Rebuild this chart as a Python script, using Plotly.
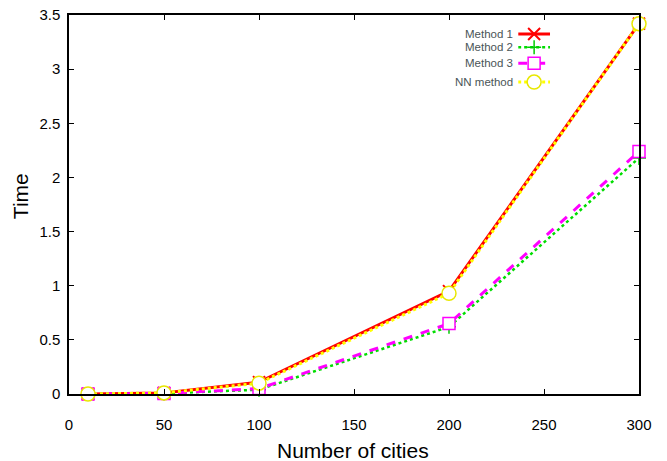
import plotly.graph_objects as go

cities = [10, 50, 100, 200, 300]
method1 = [0.0, 0.01, 0.11, 0.95, 3.42]
method2 = [0.0, 0.005, 0.04, 0.62, 2.18]
method3 = [0.0, 0.005, 0.05, 0.65, 2.24]
nn_method = [0.0, 0.01, 0.10, 0.93, 3.42]
names = ["Method 1", "Method 2", "Method 3", "NN method"]
x_ticks = [0, 50, 100, 150, 200, 250, 300]
y_ticks = [0, 0.5, 1, 1.5, 2, 2.5, 3, 3.5]

styles = [
    dict(line=dict(color="#ff0000", width=3, dash="solid"),
         marker=dict(symbol="x-thin-open", size=12, color="#ff0000", line=dict(color="#ff0000", width=2))),
    dict(line=dict(color="#00dd00", width=2.5, dash="dot"),
         marker=dict(symbol="cross-thin-open", size=10, color="#00cc00", line=dict(color="#00cc00", width=1.5))),
    dict(line=dict(color="#ff00ff", width=3, dash="dash"),
         marker=dict(symbol="square", size=12, color="white", line=dict(color="#ff00ff", width=1.5))),
    dict(line=dict(color="#ffff00", width=3, dash="dot"),
         marker=dict(symbol="circle", size=14, color="white", line=dict(color="#e8e800", width=1.5))),
]
series = [method1, method2, method3, nn_method]

fig = go.Figure()
for name, ys, st in zip(names, series, styles):
    fig.add_trace(go.Scatter(x=cities, y=ys, mode="lines+markers", name=name,
                             line=st["line"], marker=st["marker"], showlegend=False,
                             cliponaxis=False))

# custom legend (text on left, sample on right) on overlay axes
leg_y = [0.950, 0.915, 0.873, 0.823]
for name, ly, st in zip(names, leg_y, styles):
    fig.add_trace(go.Scatter(x=[0.0, 0.5, 1.0], y=[ly, ly, ly], mode="lines",
                             line=st["line"], xaxis="x2", yaxis="y2", showlegend=False,
                             hoverinfo="skip"))
    fig.add_trace(go.Scatter(x=[0.5], y=[ly], mode="markers",
                             marker=st["marker"], xaxis="x2", yaxis="y2", showlegend=False,
                             hoverinfo="skip"))
    fig.add_annotation(text=name, xref="paper", yref="paper", x=0.781, y=ly,
                       xanchor="right", yanchor="middle", showarrow=False,
                       font=dict(size=11.5, color="#4a5558"), borderpad=0)

# axis titles
fig.add_annotation(text="Time", xref="paper", yref="paper", x=-0.086, y=0.522,
                   textangle=-90, showarrow=False, xanchor="center", yanchor="middle",
                   font=dict(size=21, color="black"))
fig.add_annotation(text="Number of cities", xref="paper", yref="paper", x=0.498, y=-0.148,
                   showarrow=False, xanchor="center", yanchor="middle",
                   font=dict(size=21, color="black"))

axis_common = dict(showline=True, linecolor="black", linewidth=1.5, mirror="ticks",
                   ticks="inside", ticklen=5, tickcolor="black", showgrid=False,
                   zeroline=False, tickfont=dict(size=15, color="black"), automargin=False,
                   ticklabeloverflow="allow")

fig.update_layout(
    width=667, height=461,
    margin=dict(l=69, r=28, t=15, b=67),
    paper_bgcolor="white", plot_bgcolor="rgba(0,0,0,0)",
    font=dict(family="Liberation Sans, Arial, sans-serif", color="black"),
    xaxis=dict(range=[0, 300], tickvals=x_ticks, ticklabelstandoff=16, **axis_common),
    yaxis=dict(range=[0, 3.5], tickvals=y_ticks, ticktext=[f"{v:g}" for v in y_ticks],
               ticklabelstandoff=4, **axis_common),
    xaxis2=dict(domain=[0.788, 0.844], range=[0, 1], visible=False, anchor="y2"),
    yaxis2=dict(domain=[0, 1], range=[0, 1], visible=False, anchor="x2"),
)

fig.write_html("out.html", config={"displayModeBar": False},
               post_script="document.body.style.margin='0';document.body.style.padding='0';")
